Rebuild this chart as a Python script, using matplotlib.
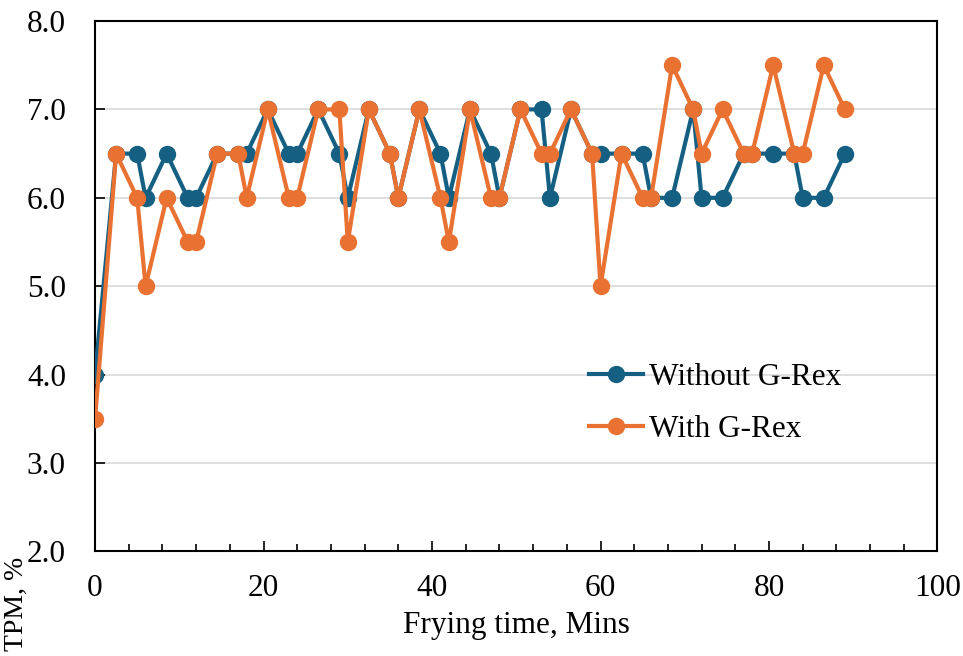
import numpy as np
import matplotlib
matplotlib.use('Agg')
import matplotlib.pyplot as plt
from matplotlib.ticker import MultipleLocator, FormatStrFormatter

plt.rcParams['font.family'] = ['Liberation Serif', 'DejaVu Serif']

# frying time (mins)
time = [0, 2.5, 5, 6, 8.5, 11, 12, 14.5, 17, 18, 20.5, 23, 24, 26.5, 29, 30,
        32.5, 35, 36, 38.5, 41, 42, 44.5, 47, 48, 50.5, 53, 54, 56.5, 59, 60,
        62.5, 65, 66, 68.5, 71, 72, 74.5, 77, 78, 80.5, 83, 84, 86.5, 89]

# TPM, %
without_grex = [4.0, 6.5, 6.5, 6.0, 6.5, 6.0, 6.0, 6.5, 6.5, 6.5, 7.0, 6.5, 6.5,
                7.0, 6.5, 6.0, 7.0, 6.5, 6.0, 7.0, 6.5, 6.0, 7.0, 6.5, 6.0, 7.0,
                7.0, 6.0, 7.0, 6.5, 6.5, 6.5, 6.5, 6.0, 6.0, 7.0, 6.0, 6.0, 6.5,
                6.5, 6.5, 6.5, 6.0, 6.0, 6.5]
with_grex = [3.5, 6.5, 6.0, 5.0, 6.0, 5.5, 5.5, 6.5, 6.5, 6.0, 7.0, 6.0, 6.0,
             7.0, 7.0, 5.5, 7.0, 6.5, 6.0, 7.0, 6.0, 5.5, 7.0, 6.0, 6.0, 7.0,
             6.5, 6.5, 7.0, 6.5, 5.0, 6.5, 6.0, 6.0, 7.5, 7.0, 6.5, 7.0, 6.5,
             6.5, 7.5, 6.5, 6.5, 7.5, 7.0]

FS = 22.5

fig = plt.figure(figsize=(9.63, 6.56), dpi=100)
ax = fig.add_axes([0.0987, 0.1593, 0.8748, 0.8087])

ax.plot(time, without_grex, color='#156082', lw=3, marker='o', ms=11.5,
        label='Without G-Rex', zorder=3)
ax.plot(time, with_grex, color='#E97132', lw=3, marker='o', ms=11.5,
        label='With G-Rex', zorder=4)

ax.set_xlim(0, 100)
ax.set_ylim(2, 8)
ax.xaxis.set_major_locator(MultipleLocator(20))
ax.xaxis.set_minor_locator(MultipleLocator(4))
ax.yaxis.set_major_locator(MultipleLocator(1))
ax.yaxis.set_major_formatter(FormatStrFormatter('%.1f'))
ax.tick_params(axis='both', which='both', direction='in', labelsize=FS,
               width=1.2, colors='black')
ax.tick_params(axis='both', which='major', length=7)
ax.tick_params(axis='x', which='minor', length=5)
ax.tick_params(axis='x', which='major', pad=16)
ax.tick_params(axis='y', which='major', pad=21)

ax.grid(axis='y', color='#d9d9d9', lw=1.2, zorder=0)
ax.set_axisbelow(True)
for s in ax.spines.values():
    s.set_linewidth(1.5)
    s.set_color('black')

ax.set_xlabel('Frying time, Mins', fontsize=FS, labelpad=6)
fig.text(0.004, 0.008, 'TPM, %', rotation=90, fontsize=20,
         ha='left', va='bottom')

ax.legend(loc='upper left', bbox_to_anchor=(0.571, 0.379), frameon=False,
          fontsize=FS, handlelength=1.74, handletextpad=0.2, labelspacing=0.75,
          borderaxespad=0)

fig.savefig('out.png', dpi=100)
